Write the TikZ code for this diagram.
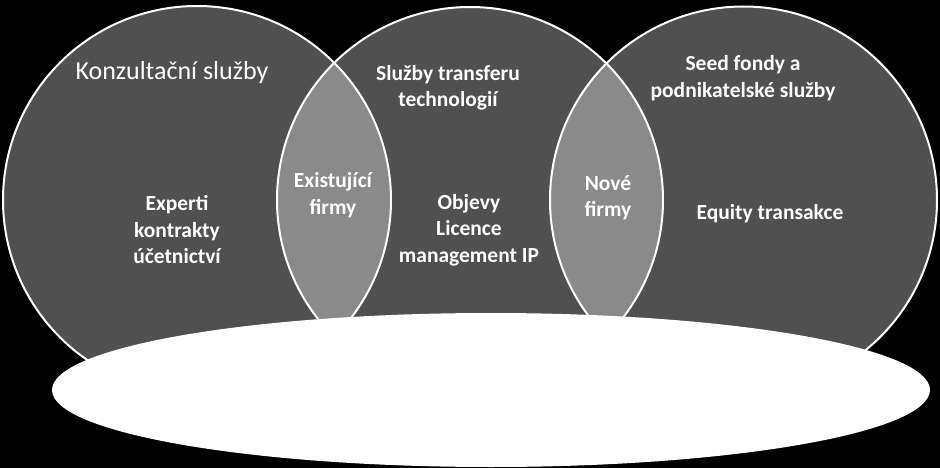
\documentclass[tikz,border=0pt]{standalone}
\usepackage{fontspec}
\setmainfont{Carlito}
\usetikzlibrary{positioning}
\tikzstyle{every picture}+=[remember picture]
\tikzstyle{kruh}=[fill={rgb,255:red,80;green,80;blue,80}]
\tikzstyle{prunik}=[fill={rgb,255:red,138;green,138;blue,138}]
\tikzstyle{obrys}=[draw=white, line width=2pt]
\tikzstyle{popis}=[text=white, font=\bfseries\fontsize{21.5}{26.5}\selectfont, align=center]

\begin{document}
\begin{tikzpicture}[x=1pt,y=-1pt]
	\useasboundingbox[fill=black] (0,0) rectangle (940,468);
	
	\fill[kruh] (197,200) circle (194);
	\fill[kruh] (470,200) circle (193);
	\fill[kruh] (743.5,200) circle (193.5);
	
	\begin{scope}
	\clip (197,200) circle (194);
	\fill[prunik] (470,200) circle (193);
	\end{scope}
	
	\begin{scope}
	\clip (470,200) circle (193);
	\fill[prunik] (743.5,200) circle (193.5);
	\end{scope}
	
	\draw[obrys] (197,200) circle (194);
	\draw[obrys] (470,200) circle (193);
	\draw[obrys] (743.5,200) circle (193.5);
	
	\fill[white] (491,390) ellipse (439 and 77);
	
	\node[popis, font=\fontsize{26}{30}\selectfont] (konzult) at (172,73) {Konzultační služby};
	\node[popis] (experti) at (177,230) {Experti\\kontrakty\\účetnictví};
	\node[popis] (existujici) at (333,195) {Existující\\firmy};
	\node[popis] (transfer) at (448,88) {Služby transferu\\technologií};
	\node[popis] (objevy) at (469,230) {Objevy\\Licence\\management IP};
	\node[popis] (nove) at (608,198) {Nové\\firmy};
	\node[popis] (seed) at (743,78) {Seed fondy a\\podnikatelské služby};
	\node[popis] (equity) at (770,214) {Equity transakce};
\end{tikzpicture}
\end{document}
